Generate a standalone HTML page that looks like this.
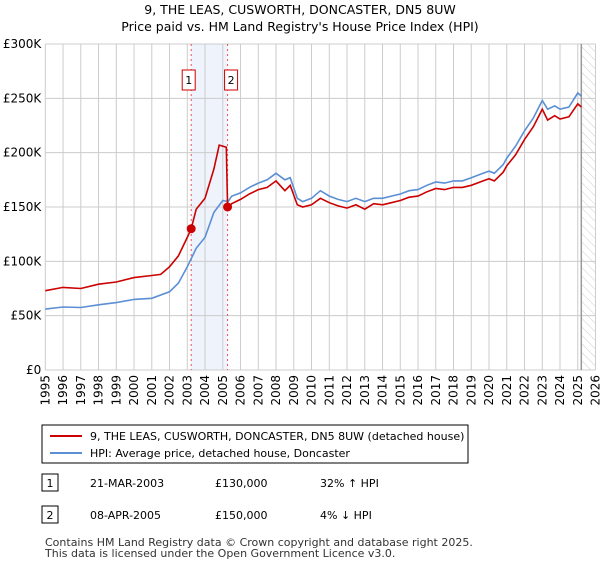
<!DOCTYPE html>
<html><head><meta charset="utf-8"><style>
body{margin:0;background:#fff;font-family:"Liberation Sans","DejaVu Sans",sans-serif;}
svg text{font-family:"DejaVu Sans","Liberation Sans",sans-serif;}
</style></head><body>
<svg id="c" width="600" height="560" viewBox="0 0 600 560">
<defs><pattern id="hatch" width="6" height="6" patternUnits="userSpaceOnUse" patternTransform="rotate(-45)"><line x1="0" y1="0" x2="0" y2="6" stroke="#ccc" stroke-width="1"/></pattern></defs>
<text x="300" y="14" text-anchor="middle" font-size="12.5">9, THE LEAS, CUSWORTH, DONCASTER, DN5 8UW</text>
<text x="300" y="31" text-anchor="middle" font-size="12.5">Price paid vs. HM Land Registry's House Price Index (HPI)</text>
<g id="grid"></g><g id="marks"></g>
<rect x="42" y="425" width="426" height="38" fill="#fff" stroke="#000"/>
<line x1="50" y1="436" x2="82" y2="436" stroke="#cc0000" stroke-width="2"/>
<text x="90" y="440" font-size="11">9, THE LEAS, CUSWORTH, DONCASTER, DN5 8UW (detached house)</text>
<line x1="50" y1="453" x2="82" y2="453" stroke="#5b8fd4" stroke-width="2"/>
<text x="90" y="457" font-size="11">HPI: Average price, detached house, Doncaster</text>
<rect x="42" y="474" width="16" height="17" fill="#fff" stroke="#000"/>
<text x="50" y="487" text-anchor="middle" font-size="11">1</text>
<text x="90" y="487" font-size="11">21-MAR-2003</text>
<text x="215" y="487" font-size="11">£130,000</text>
<text x="320" y="487" font-size="11">32% ↑ HPI</text>
<rect x="42" y="506" width="16" height="17" fill="#fff" stroke="#000"/>
<text x="50" y="519" text-anchor="middle" font-size="11">2</text>
<text x="90" y="519" font-size="11">08-APR-2005</text>
<text x="215" y="519" font-size="11">£150,000</text>
<text x="320" y="519" font-size="11">4% ↓ HPI</text>
<text x="45" y="546" font-size="11" fill="#333">Contains HM Land Registry data © Crown copyright and database right 2025.</text>
<text x="45" y="557" font-size="11" fill="#333">This data is licensed under the Open Government Licence v3.0.</text>
</svg>
<script>
const yTicks=[0,50000,100000,150000,200000,250000,300000];
const yTickLabels=["£0","£50K","£100K","£150K","£200K","£250K","£300K"];
const xYears=[1995,1996,1997,1998,1999,2000,2001,2002,2003,2004,2005,2006,2007,2008,2009,2010,2011,2012,2013,2014,2015,2016,2017,2018,2019,2020,2021,2022,2023,2024,2025,2026];
const hpiT=[1995,1996,1997,1998,1999,2000,2001,2002,2002.5,2003,2003.5,2004,2004.5,2005,2005.3,2005.5,2006,2006.5,2007,2007.5,2008,2008.5,2008.8,2009.2,2009.5,2010,2010.5,2011,2011.5,2012,2012.5,2013,2013.5,2014,2014.5,2015,2015.5,2016,2016.5,2017,2017.5,2018,2018.5,2019,2019.5,2020,2020.3,2020.8,2021,2021.5,2022,2022.5,2023,2023.3,2023.7,2024,2024.5,2025,2025.2];
const hpiV=[56,58,57.5,60,62,65,66,72,80,95,112,122,145,156,155,160,163,168,172,175,181,175,177,158,155,158,165,160,157,155,158,155,158,158,160,162,165,166,170,173,172,174,174,177,180,183,181,189,195,206,220,232,248,240,243,240,242,255,252];
const priceT=[1995,1996,1997,1998,1999,2000,2001,2001.5,2002,2002.5,2003,2003.22,2003.5,2004,2004.5,2004.8,2005.2,2005.27,2005.5,2006,2006.5,2007,2007.5,2008,2008.5,2008.8,2009.2,2009.5,2010,2010.5,2011,2011.5,2012,2012.5,2013,2013.5,2014,2014.5,2015,2015.5,2016,2016.5,2017,2017.5,2018,2018.5,2019,2019.5,2020,2020.3,2020.8,2021,2021.5,2022,2022.5,2023,2023.3,2023.7,2024,2024.5,2025,2025.2];
const priceV=[73,76,75,79,81,85,87,88,95,105,122,130,148,158,185,207,205,150,153,157,162,166,168,174,165,170,152,150,152,158,154,151,149,152,148,153,152,154,156,159,160,164,167,166,168,168,170,173,176,174,182,188,198,212,224,240,230,234,231,233,245,242];
const saleT=[2003.22,2005.27];
const saleV=[130,150];
const saleLabels=["1","2"];
const X0=45.3,X1=595.5,Y0=370,Y1=44;
const x=t=>X0+(t-1995)/31*(X1-X0);
const y=v=>Y0-v/300000*(Y0-Y1);
const NS="http://www.w3.org/2000/svg";
function mk(tag,attrs,parent){const e=document.createElementNS(NS,tag);for(const k in attrs)e.setAttribute(k,attrs[k]);parent.appendChild(e);return e;}
const g=document.getElementById('grid'),m=document.getElementById('marks');
let r=mk('rect',{x:x(saleT[0]),y:Y1,width:x(saleT[1])-x(saleT[0]),height:Y0-Y1,fill:'#eef3fc'},g);


let hz=mk('rect',{x:x(2025.2),y:Y1,width:X1-x(2025.2),height:Y0-Y1,fill:'url(#hatch)'},g);


yTicks.forEach((v,i)=>{
 let l=mk('line',{x1:X0,x2:X1,y1:y(v),y2:y(v),stroke:'#ccc'},g);
 
 
 let t=mk('text',{x:X0-4,y:y(v)+4,'text-anchor':'end','font-size':'12'},g);t.textContent=yTickLabels[i];
 
 
});
xYears.forEach(yr=>{
 let l=mk('line',{x1:x(yr),x2:x(yr),y1:Y1,y2:Y0,stroke:'#ccc'},g);
 
 
 let t=mk('text',{x:0,y:0,'text-anchor':'end','font-size':'12',transform:`translate(${x(yr)+4},${Y0+5}) rotate(-90)`},g);t.textContent=yr;
 
 
});
let nl=mk('line',{x1:x(2025.2),x2:x(2025.2),y1:Y1,y2:Y0,stroke:'#999','stroke-width':1.5},g);


saleT.forEach((t,i)=>{
 let l=mk('line',{x1:x(t),x2:x(t),y1:Y1,y2:Y0,stroke:'#f05050','stroke-dasharray':'2,3'},m);
 
 
 let b=mk('rect',{x:x(t)-14,y:70,width:13,height:20,fill:'#fff',stroke:'#cc0000'},m);
 b.setAttribute('x',x(t)-(i==0?3:-3)-6);
 
 
 let tx=mk('text',{x:x(t)-(i==0?3:-3)+0.5,y:84,'text-anchor':'middle','font-size':'11'},m);tx.textContent=saleLabels[i];
});
function path(T,V,c,name){let d=T.map((t,i)=>(i?'L':'M')+x(t).toFixed(1)+','+y(V[i]*1000).toFixed(1)).join('');
 let p=mk('path',{d:d,fill:'none',stroke:c,'stroke-width':1.6},m);
 
 }
path(hpiT,hpiV,'#5b8fd4','hpi-line');
path(priceT,priceV,'#cc0000','price-line');
saleT.forEach((t,i)=>{let c=mk('circle',{cx:x(t),cy:y(saleV[i]*1000),r:4.5,fill:'#cc0000'},m);
 
 });
</script>
</body></html>
